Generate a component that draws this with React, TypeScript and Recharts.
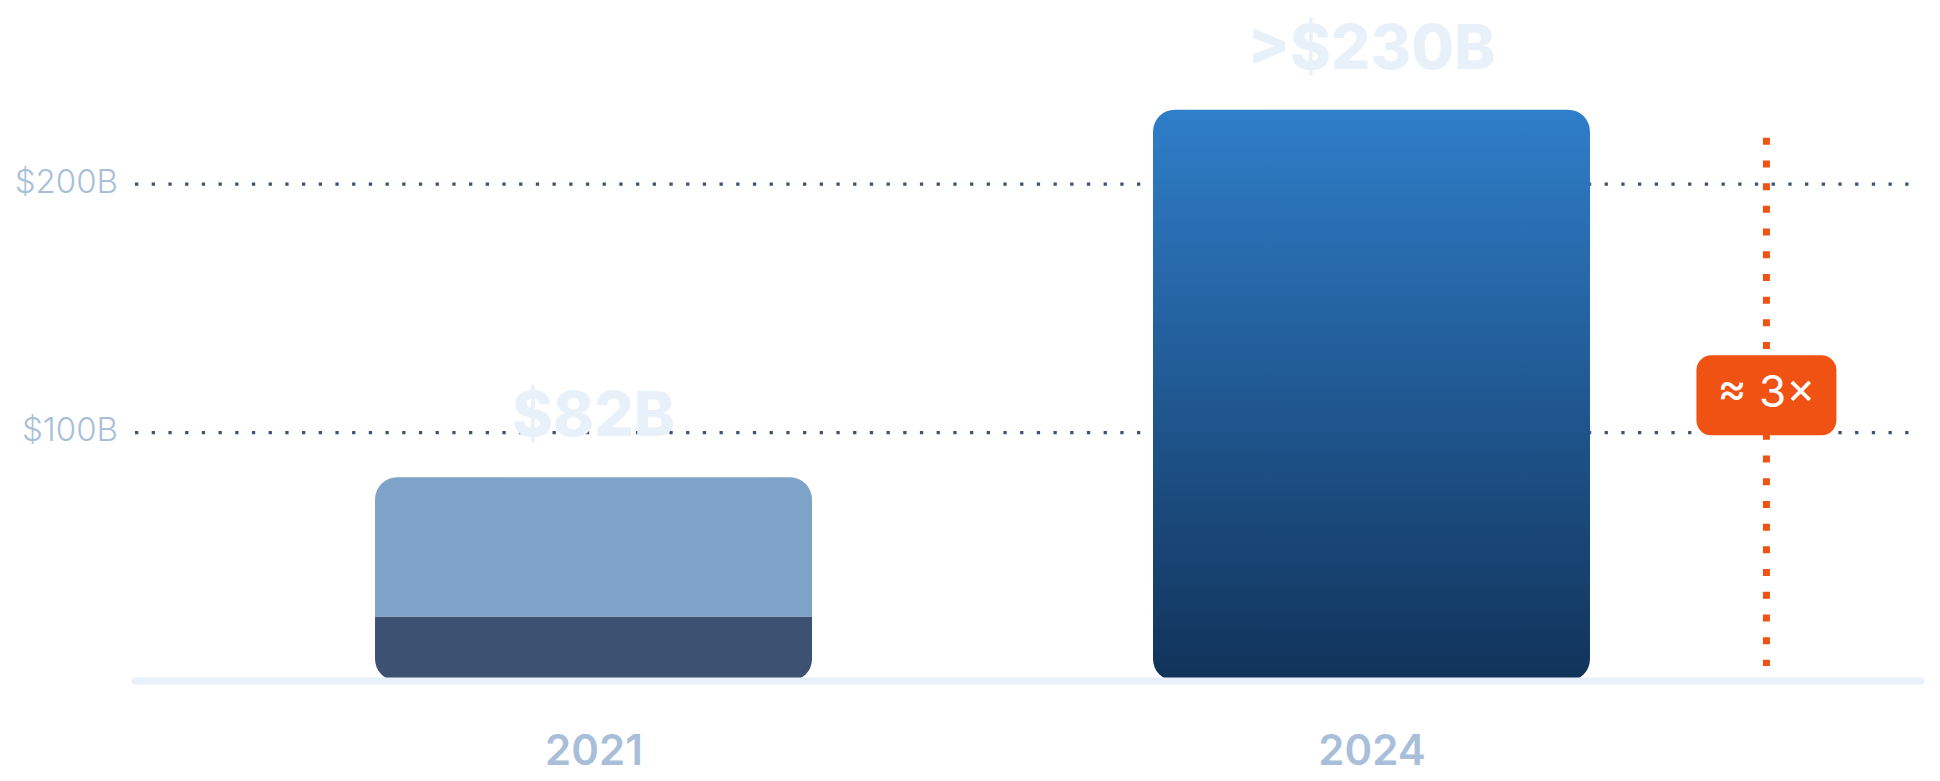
import React from "react";
import {
  BarChart,
  Bar,
  XAxis,
  YAxis,
  CartesianGrid,
  ReferenceLine,
  ReferenceDot,
  LabelList,
} from "recharts";

// ---- data ----
const years = ["2021", "2024"];
const lowerValues = [26, null];      // dark base segment (2021)
const upperValues = [56, null];      // light upper segment (2021) -> total 82
const fullValues = [null, 230];      // 2024 single gradient bar
const valueLabels = ["$82B", ">$230B"];
const yTicks = [100, 200];
const multiplierLabel = "≈ 3×";
const multiplierX = 1.507;
const multiplierY = 115;
const markerTop = 218.7;
const markerBottom = 6;

const data = years.map((y, i) => ({
  x: i,
  year: y,
  lower: lowerValues[i],
  upper: upperValues[i],
  full: fullValues[i],
  labUpper: upperValues[i] != null ? valueLabels[i] : undefined,
  labFull: fullValues[i] != null ? valueLabels[i] : undefined,
}));

const FONT = "Inter, 'Noto Sans', sans-serif";
const AXIS_TEXT = "#a9bfd9";
const VALUE_TEXT = "#e8f1fa";
const ORANGE = "#f05213";

const Badge = (props: any) => {
  const { cx, cy } = props;
  if (cx == null || cy == null) return null;
  return (
    <g>
      <rect x={cx - 70} y={cy - 40} width={140} height={80} rx={15} ry={15} fill={ORANGE} />
      <text
        x={cx}
        y={cy + 12}
        textAnchor="middle"
        fill="#ffffff"
        fontSize={44}
        fontWeight={400}
        fontFamily={FONT}
      >
        {multiplierLabel}
      </text>
    </g>
  );
};

export default function App() {
  return (
    <div style={{ width: 1924, height: 773, fontFamily: FONT }}>
      <BarChart
        width={1924}
        height={773}
        data={data}
        margin={{ top: 52, right: 11, bottom: 0, left: 0 }}
      >
        <defs>
          <linearGradient id="grad2024" x1="0" y1="0" x2="0" y2="1">
            <stop offset="0%" stopColor="#2f7ec9" />
            <stop offset="100%" stopColor="#11335a" />
          </linearGradient>
        </defs>
        <CartesianGrid
          vertical={false}
          horizontalValues={yTicks}
          stroke="#3d5275"
          strokeWidth={3.3}
          strokeDasharray="3.3 13.4"
        />
        <XAxis
          dataKey="x"
          type="number"
          domain={[-0.59, 1.7057]}
          allowDataOverflow
          ticks={[0, 1]}
          tickFormatter={(v: number) => years[v] ?? ""}
          axisLine={false}
          tickLine={false}
          tickSize={0}
          tickMargin={54}
          height={100}
          tick={{ fill: AXIS_TEXT, fontSize: 42, fontWeight: 600, fontFamily: FONT }}
        />
        <YAxis
          type="number"
          domain={[0, 250]}
          ticks={yTicks}
          tickFormatter={(v: number) => `$${v}B`}
          axisLine={false}
          tickLine={false}
          tickSize={0}
          tickMargin={17}
          width={127}
          tick={{ fill: AXIS_TEXT, fontSize: 33, fontWeight: 300, fontFamily: FONT, dy: -3 }}
        />
        <Bar
          dataKey="lower"
          stackId="s"
          barSize={437}
          fill="#3d5273"
          radius={[0, 0, 22, 22]}
          isAnimationActive={false}
        />
        <Bar
          dataKey="upper"
          stackId="s"
          barSize={437}
          fill="#7fa3c8"
          radius={[22, 22, 0, 0]}
          isAnimationActive={false}
        >
          <LabelList
            dataKey="labUpper"
            position="top"
            offset={41}
            fill={VALUE_TEXT}
            fontSize={62}
            fontWeight={800}
            fontFamily={FONT}
          />
        </Bar>
        <Bar
          dataKey="full"
          stackId="s"
          barSize={437}
          fill="url(#grad2024)"
          radius={[22, 22, 22, 22]}
          isAnimationActive={false}
        >
          <LabelList
            dataKey="labFull"
            position="top"
            offset={41}
            fill={VALUE_TEXT}
            fontSize={62}
            fontWeight={800}
            fontFamily={FONT}
          />
        </Bar>
        <ReferenceLine
          y={0}
          stroke="#e8f0f9"
          strokeWidth={7}
          strokeLinecap="round"
          ifOverflow="visible"
        />
        <ReferenceLine
          segment={[
            { x: multiplierX, y: markerTop },
            { x: multiplierX, y: markerBottom },
          ]}
          stroke={ORANGE}
          strokeWidth={7}
          strokeDasharray="7 15.7"
          ifOverflow="visible"
        />
        <ReferenceDot
          x={multiplierX}
          y={multiplierY}
          r={1}
          shape={Badge}
          ifOverflow="visible"
        />
      </BarChart>
    </div>
  );
}
